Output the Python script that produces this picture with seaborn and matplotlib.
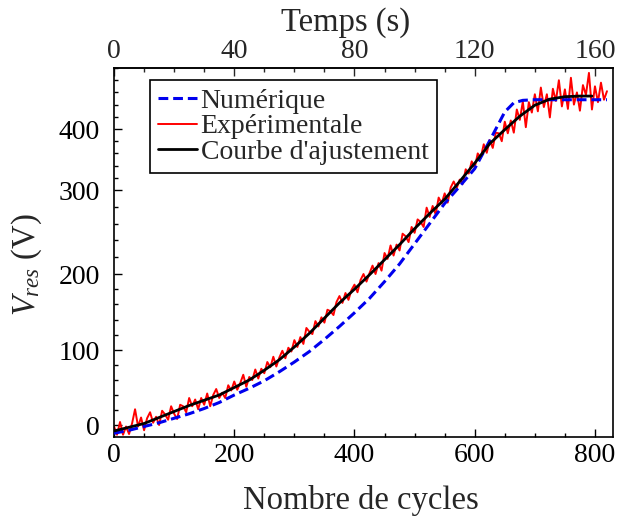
import matplotlib
matplotlib.use("Agg")

import matplotlib.pyplot as plt
from matplotlib.ticker import MultipleLocator
import seaborn as sns
import numpy as np

# numerical model (blue dashed)
cycles_num = [0, 25, 50, 75, 100, 125, 150, 175, 200, 225, 250, 275, 300, 325, 350,
              375, 400, 425, 450, 475, 500, 525, 550, 575, 600, 625, 650, 665, 680,
              700, 750, 820]
v_num = [-11, -7, -2, 3, 9, 15, 22, 30, 40, 49, 59, 71, 84, 98, 114,
         131, 149, 168, 190, 212, 236, 260, 284, 306, 335, 381, 428, 443, 447,
         448, 448, 448]

# fitted curve (black)
cycles_fit = [0, 25, 50, 75, 100, 125, 150, 175, 200, 225, 250, 275, 300, 325, 350,
              375, 400, 425, 450, 475, 500, 525, 550, 575, 600, 625, 650, 675, 700,
              725, 750, 775, 795]
v_fit = [-8, -3, 2, 10, 18, 26, 33, 40, 50, 60, 73, 87, 104, 122, 142,
         162, 180, 199, 217, 235, 254, 272, 289, 314, 344, 376, 399, 421, 439,
         449, 453, 454, 454]

# experimental measurement (red), one sample every 5 cycles
cycles_exp = list(range(0, 825, 5))
v_exp = [-2, -13, 4, -13, -2, -12, 2, 21, -2, 10,
         -7, 9, 17, 3, 11, 0, 19, 14, 7, 25,
         15, 8, 27, 25, 17, 36, 25, 34, 21, 36,
         27, 42, 25, 40, 48, 36, 43, 36, 53, 46,
         58, 47, 56, 67, 51, 64, 60, 74, 62, 75,
         69, 84, 77, 91, 78, 90, 99, 89, 103, 98,
         113, 104, 117, 108, 129, 124, 121, 138, 131, 143,
         136, 153, 151, 146, 163, 171, 162, 175, 166, 179,
         186, 176, 192, 200, 190, 201, 210, 200, 213, 204,
         225, 218, 234, 222, 235, 228, 248, 245, 238, 256,
         249, 265, 262, 256, 279, 268, 281, 271, 291, 284,
         296, 285, 304, 314, 303, 317, 310, 334, 327, 347,
         337, 360, 353, 375, 361, 382, 369, 394, 393, 380,
         412, 393, 414, 394, 432, 415, 445, 403, 444, 427,
         457, 429, 468, 436, 457, 419, 466, 446, 480, 437,
         465, 433, 484, 440, 460, 430, 472, 456, 492, 432,
         470, 444, 476, 448, 462]

# the original y axis is not evenly spaced between its labels
y_knots = [-100, 0, 100, 200, 300, 400, 600]
y_pos = [-75, 0, 75, 151, 235, 296, 418]


def y_forward(v):
    return np.interp(v, y_knots, y_pos)


def y_inverse(p):
    return np.interp(p, y_pos, y_knots)


sns.set_theme(style="ticks")
plt.rcParams["font.family"] = ["Liberation Serif", "DejaVu Serif"]
plt.rcParams["mathtext.fontset"] = "custom"
plt.rcParams["mathtext.rm"] = "Liberation Serif"
plt.rcParams["mathtext.it"] = "Liberation Serif:italic"

fig = plt.figure(figsize=(6.17, 5.2), dpi=100)
ax = fig.add_axes([0.1848, 0.1596, 0.8087, 0.7096])
ax.set_yscale("function", functions=(y_forward, y_inverse))

sns.lineplot(x=cycles_exp, y=v_exp, color="red", linewidth=1.4, ax=ax, zorder=2)
sns.lineplot(x=cycles_num, y=v_num, color="#0000ee", linewidth=2.2,
             linestyle=(0, (3.2, 1.6)), ax=ax, zorder=3)
sns.lineplot(x=cycles_fit, y=v_fit, color="black", linewidth=2.0, ax=ax, zorder=4)

lines = ax.get_lines()
ax.legend([lines[1], lines[0], lines[2]],
          ["Numérique", "Expérimentale", "Courbe d'ajustement"],
          loc="upper left", bbox_to_anchor=(0.072, 0.967), borderaxespad=0,
          fontsize=20, frameon=True, fancybox=False, framealpha=1,
          edgecolor="black", handlelength=1.4, handletextpad=0.12,
          labelspacing=0.0, borderpad=0.3)
ax.get_legend().get_frame().set_linewidth(1.2)

ax.set_xlim(0, 830)
ax.set_ylim(-16, 500)
ax.set_yticks([0, 100, 200, 300, 400])
ax.xaxis.set_major_locator(MultipleLocator(200))
ax.xaxis.set_minor_locator(MultipleLocator(50))
ax.yaxis.set_minor_locator(MultipleLocator(20))

ax.tick_params(which="both", direction="in", colors="black", labelsize=20,
               top=False, right=False, width=1)
ax.tick_params(which="major", length=6)
ax.tick_params(which="minor", length=3)
ax.tick_params(axis="x", pad=4)
ax.tick_params(axis="y", pad=10)

for side in ["left", "right", "top", "bottom"]:
    ax.spines[side].set_visible(True)
    ax.spines[side].set_color("black")
    ax.spines[side].set_linewidth(1.2)

ax.set_xlabel("Nombre de cycles", fontsize=23.5)
ax.xaxis.set_label_coords(0.494, -0.13)
ax.set_ylabel("$V_{res}$ (V)", fontsize=23.5)
ax.yaxis.set_label_coords(-0.14, 0.466)

top = ax.secondary_xaxis("top", functions=(lambda c: c / 5, lambda t: t * 5))
top.set_xticks([0, 40, 80, 120, 160])
top.xaxis.set_minor_locator(MultipleLocator(10))
top.tick_params(which="both", direction="in", labelsize=20, pad=3, width=1)
top.tick_params(which="major", length=6)
top.tick_params(which="minor", length=3)
top.set_xlabel("Temps (s)", fontsize=23.5)
top.xaxis.set_label_coords(0.465, 1.1, transform=ax.transAxes)

fig.savefig("out.png", dpi=100)
plt.close(fig)
